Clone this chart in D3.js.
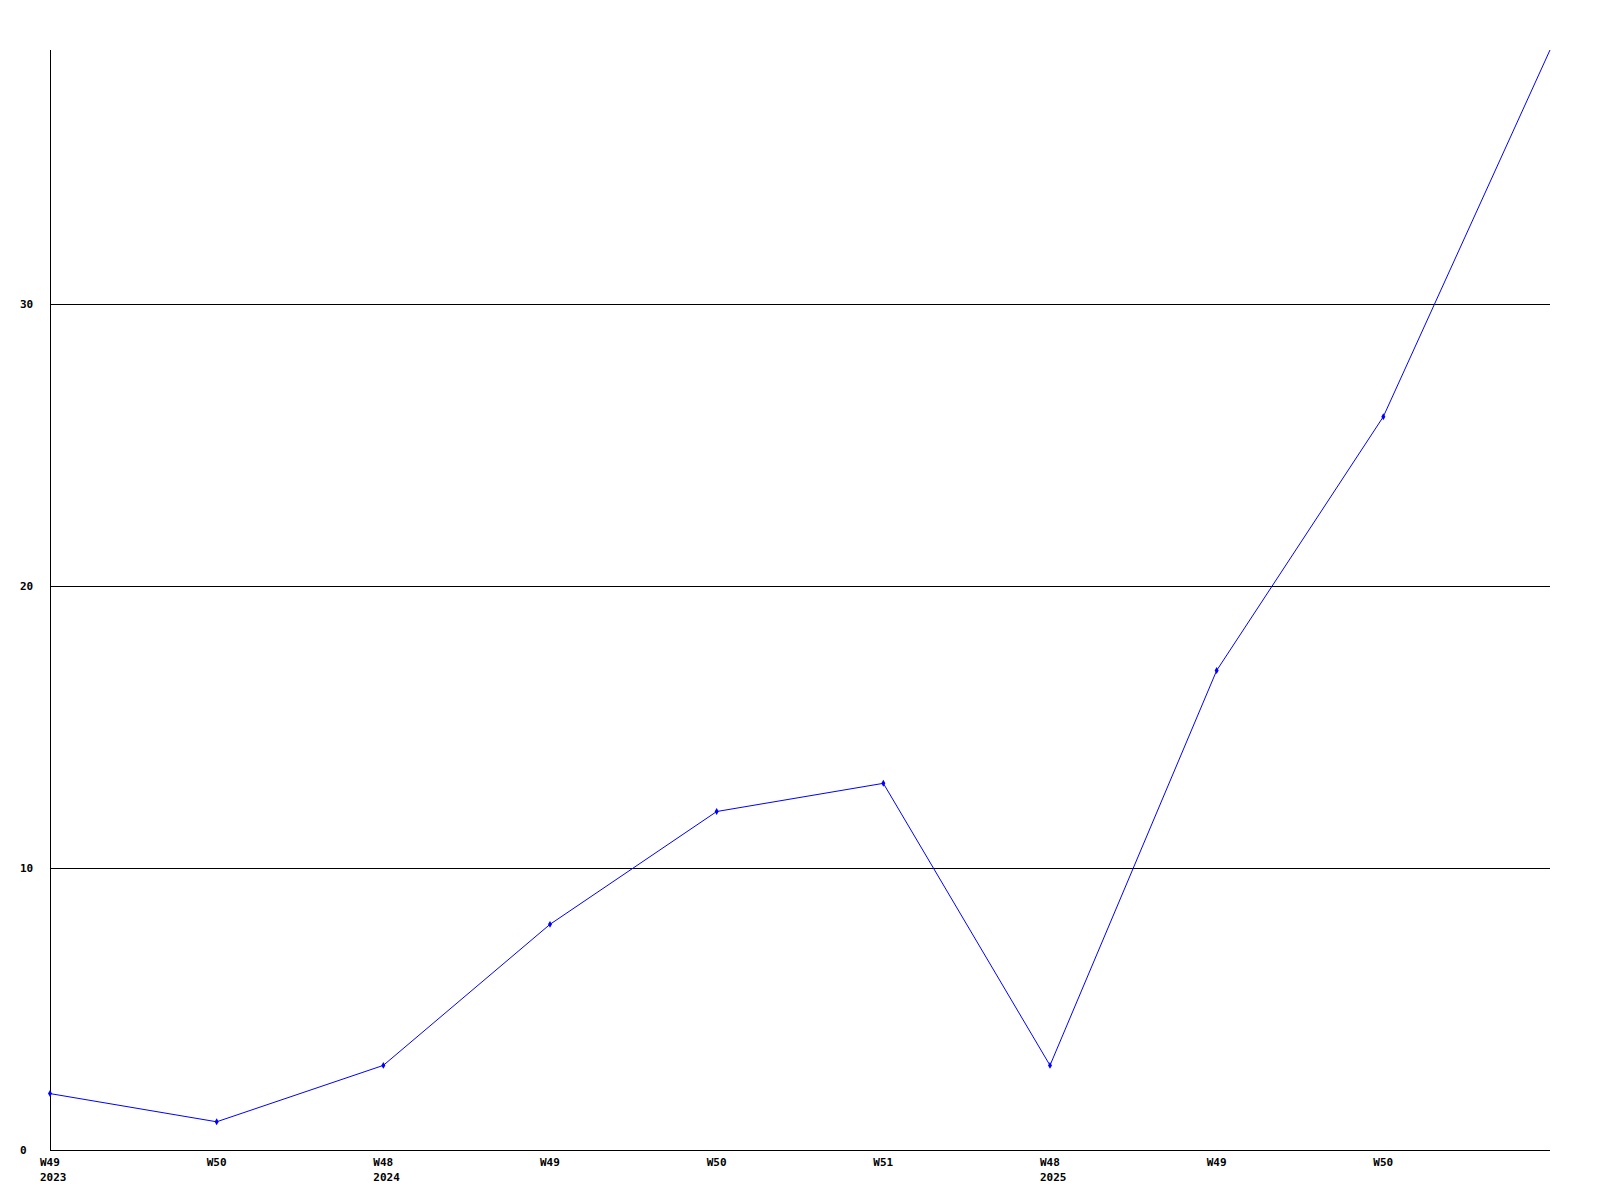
<!DOCTYPE html>
<html>
<head>
<meta charset="utf-8">
<script src="https://cdn.jsdelivr.net/npm/d3@7"></script>
<style>
  body { margin: 0; background: #fff; }
  text { font-family: "DejaVu Sans Mono", monospace; font-size: 11px; font-weight: bold; fill: #000; }
</style>
</head>
<body>
<svg id="chart" width="1600" height="1200"></svg>
<script>
// weekly values, one per point
const weeks = ['W49', 'W50', 'W48', 'W49', 'W50', 'W51', 'W48', 'W49', 'W50', ''];
const years = ['2023', '', '2024', '', '', '', '2025', '', '', ''];
const values = [2, 1, 3, 8, 12, 13, 3, 17, 26, 39];
const yTicks = [0, 10, 20, 30];

const svg = d3.select('#chart');
const margin = { top: 50, right: 50, bottom: 50, left: 50 };
const width = +svg.attr('width');
const height = +svg.attr('height');
const innerWidth = width - margin.left - margin.right;
const innerHeight = height - margin.top - margin.bottom;

const xScale = d3.scaleLinear()
  .domain([0, values.length - 1])
  .range([margin.left, margin.left + innerWidth]);

const yScale = d3.scaleLinear()
  .domain([0, d3.max(values)])
  .range([margin.top + innerHeight, margin.top]);

// clip to plot area so the top marker is hidden like the original
svg.append('clipPath').attr('id', 'plotclip')
  .append('rect')
    .attr('x', margin.left - 5).attr('y', margin.top + 3)
    .attr('width', innerWidth - 3).attr('height', innerHeight + 10);

// gridlines
svg.selectAll('.grid').data(yTicks.filter(d => d > 0))
  .enter().append('line')
    .attr('x1', margin.left).attr('x2', margin.left + innerWidth)
    .attr('y1', d => Math.round(yScale(d)) + 0.5)
    .attr('y2', d => Math.round(yScale(d)) + 0.5)
    .attr('stroke', '#000').attr('stroke-width', 1);

// axes lines
svg.append('line')
  .attr('x1', margin.left + 0.5).attr('x2', margin.left + 0.5)
  .attr('y1', margin.top).attr('y2', margin.top + innerHeight)
  .attr('stroke', '#000');
svg.append('line')
  .attr('x1', margin.left).attr('x2', margin.left + innerWidth)
  .attr('y1', margin.top + innerHeight + 0.5).attr('y2', margin.top + innerHeight + 0.5)
  .attr('stroke', '#000');

// y labels
svg.selectAll('.ylab').data(yTicks)
  .enter().append('text')
    .attr('x', 20)
    .attr('y', d => yScale(d) + 4)
    .text(d => d);

// x labels
const idx = d3.range(values.length);
svg.selectAll('.xlab').data(idx.filter(i => weeks[i]))
  .enter().append('text')
    .attr('x', i => xScale(i) - 10)
    .attr('y', margin.top + innerHeight + 16)
    .text(i => weeks[i]);
svg.selectAll('.ylab2').data(idx.filter(i => years[i]))
  .enter().append('text')
    .attr('x', i => xScale(i) - 10)
    .attr('y', margin.top + innerHeight + 31)
    .text(i => years[i]);

// line
const line = d3.line()
  .x((d, i) => xScale(i))
  .y(d => yScale(d));
svg.append('path')
  .datum(values)
  .attr('d', line)
  .attr('fill', 'none')
  .attr('stroke', '#0000ff')
  .attr('stroke-width', 1);

// markers
svg.append('g').attr('clip-path', 'url(#plotclip)')
  .selectAll('.pt').data(values)
  .enter().append('path')
    .attr('transform', (d, i) => `translate(${xScale(i)},${yScale(d)})`)
    .attr('d', d3.symbol(d3.symbolDiamond, 14))
    .attr('fill', '#0000ff');
</script>
</body>
</html>
